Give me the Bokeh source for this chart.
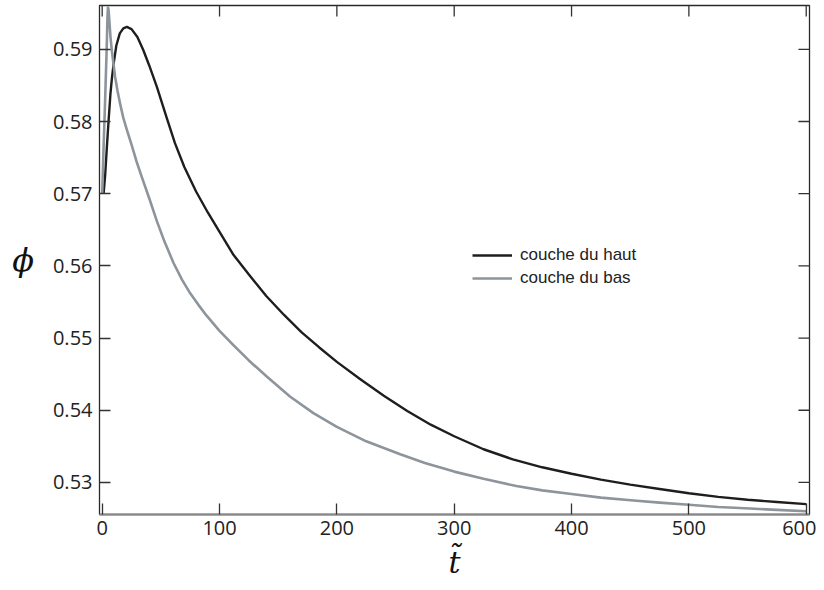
import math
from bokeh.plotting import figure
from bokeh.models import (ColumnDataSource, FixedTicker, LinearAxis, Legend, LegendItem)
from bokeh.embed import file_html
from bokeh.resources import INLINE

# ---- data ----
t_haut = [1.2, 2.5, 4.0, 5.4, 7.0, 8.3, 9.6, 12, 15, 18, 21, 25, 30, 35, 40, 46.6, 55, 62,
          70, 80, 90, 100, 112, 125, 140, 155, 170, 185, 200, 220, 240, 260, 280, 300, 325,
          350, 375, 400, 425, 450, 475, 500, 525, 550, 575, 600]
phi_haut = [0.5700, 0.5725, 0.5765, 0.5800, 0.5838, 0.5860, 0.5878, 0.5905, 0.5922, 0.5929,
            0.5931, 0.5928, 0.5917, 0.5899, 0.5878, 0.5848, 0.5805, 0.5770, 0.5737, 0.5703,
            0.5674, 0.5647, 0.5615, 0.5588, 0.5558, 0.5532, 0.5508, 0.5487, 0.5467, 0.5443,
            0.5420, 0.5399, 0.5380, 0.5364, 0.5346, 0.5332, 0.5321, 0.5312, 0.5304, 0.5297,
            0.5291, 0.5285, 0.5280, 0.5276, 0.5273, 0.5270]

t_bas = [0.0, 1.2, 2.5, 3.8, 4.5, 4.9, 5.4, 6.0, 7.0, 8.3, 9.6, 11, 13, 15.5, 18, 21.5, 25,
         29, 34, 40, 46.6, 53, 60.8, 68, 75, 82, 89, 100, 112, 125, 140, 160, 180, 200, 225,
         254, 275, 300, 325, 353, 375, 400, 425, 453, 475, 500, 525, 552, 575, 600]
phi_bas = [0.5700, 0.5765, 0.5830, 0.5900, 0.5945, 0.5958, 0.5955, 0.5942, 0.5918, 0.5897,
           0.5880, 0.5862, 0.5843, 0.5823, 0.5805, 0.5786, 0.5768, 0.5746, 0.5722, 0.5694,
           0.5662, 0.5634, 0.5604, 0.5581, 0.5562, 0.5546, 0.5531, 0.5510, 0.5490, 0.5469,
           0.5447, 0.5419, 0.5396, 0.5377, 0.5357, 0.5339, 0.5327, 0.5315, 0.5305, 0.5295,
           0.5289, 0.5284, 0.5279, 0.5275, 0.5272, 0.5269, 0.5266, 0.5264, 0.5262, 0.5260]

x_ticks = [0, 100, 200, 300, 400, 500, 600]
x_tick_labels = ["0", "100", "200", "300", "400", "500", "600"]
y_ticks = [0.53, 0.54, 0.55, 0.56, 0.57, 0.58, 0.59]
y_tick_labels = ["0.53", "0.54", "0.55", "0.56", "0.57", "0.58", "0.59"]

x_lim = (-2.3, 602.8)
y_lim = (0.52556, 0.59607)

series_names = ["couche du haut", "couche du bas"]
series_colors = ["#1e1e1e", "#8d949b"]
x_title = "t\u0303"
y_title = "\u03d5"

# ---- figure ----
p = figure(width=816, height=582, output_backend="svg", toolbar_location=None,
           x_range=x_lim, y_range=y_lim,
           min_border_left=99, min_border_right=7, min_border_top=5, min_border_bottom=67,
           x_axis_location=None, y_axis_location=None)
p.grid.visible = False
p.outline_line_color = "#2a2a2a"
p.outline_line_width = 1.3
p.background_fill_color = "white"
p.border_fill_color = "white"

tick_font = "Open Sans"
tick_color = "#333333"
title_font = "DejaVu Serif"


def make_axis(loc, ticks, labels):
    ax = LinearAxis(ticker=FixedTicker(ticks=ticks))
    ax.major_label_overrides = {t: l for t, l in zip(ticks, labels)}
    ax.major_tick_in = 11
    ax.major_tick_out = 0
    ax.minor_tick_in = 0
    ax.minor_tick_out = 0
    ax.major_tick_line_color = tick_color
    ax.major_tick_line_width = 1.3
    ax.axis_line_color = None
    ax.major_label_text_font = tick_font
    ax.major_label_text_font_size = "20px"
    ax.major_label_text_color = "#222222"
    ax.major_label_standoff = 7
    ax.axis_label_text_font = title_font
    ax.axis_label_text_font_style = "italic"
    ax.axis_label_text_color = "#111111"
    p.add_layout(ax, loc)
    return ax


xb = make_axis("below", x_ticks, x_tick_labels)
xb.axis_line_color = "#8a8a8a"
xb.axis_line_width = 2
xb.major_label_standoff = 6
xb.axis_label = x_title
xb.axis_label_text_font_size = "30px"
xb.axis_label_standoff = 7

yl = make_axis("left", y_ticks, y_tick_labels)
yl.axis_label = y_title
yl.axis_label_text_font_size = "32px"
yl.axis_label_standoff = 16
try:
    yl.axis_label_orientation = "horizontal"
except Exception:
    pass

# mirrored inward ticks on the top and right edges:
# a vertical dash marker of 22 px centred on the top edge leaves 11 px inside the frame
eps_x = (x_lim[1] - x_lim[0]) * 1e-4
eps_y = (y_lim[1] - y_lim[0]) * 1e-4
p.scatter(x=x_ticks, y=[y_lim[1] - eps_y] * len(x_ticks), marker="dash", size=22,
          angle=math.pi / 2, line_color=tick_color, line_width=1.3)
p.ray(x=[x_lim[1] - eps_x] * len(y_ticks), y=y_ticks, length=11, length_units="screen",
      angle=math.pi, line_color=tick_color, line_width=1.3)

src_haut = ColumnDataSource(dict(t=t_haut, phi=phi_haut))
src_bas = ColumnDataSource(dict(t=t_bas, phi=phi_bas))
r_haut = p.line("t", "phi", source=src_haut, line_color=series_colors[0], line_width=2.4,
                line_join="round")
r_bas = p.line("t", "phi", source=src_bas, line_color=series_colors[1], line_width=2.6,
               line_join="round")

legend = Legend(items=[LegendItem(label=series_names[0], renderers=[r_haut]),
                       LegendItem(label=series_names[1], renderers=[r_bas])],
                location=(373, 226), border_line_color=None, background_fill_alpha=0,
                padding=0, margin=0, glyph_width=40, glyph_height=20, label_height=20,
                spacing=3, label_standoff=8,
                label_text_font="Liberation Sans", label_text_font_size="17px",
                label_text_color="#222222")
p.add_layout(legend)

open("out.html", "w").write(file_html(p, INLINE))
